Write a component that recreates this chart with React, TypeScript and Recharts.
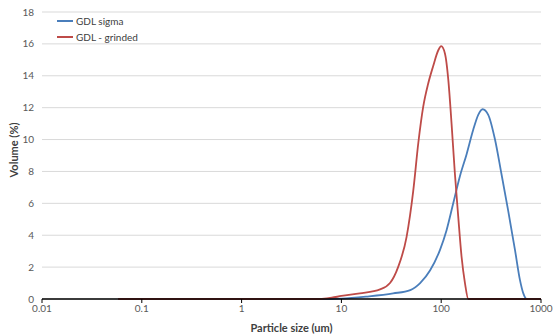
import * as React from 'react';
import { CartesianGrid, Label, Line, LineChart, XAxis, YAxis } from 'recharts';

// Particle size distribution (um vs volume %)
const sigmaSizes = [0.058, 1, 8, 10, 17.8, 33, 49, 61.5, 77.5, 97.5, 113, 132, 154, 180, 209, 235, 260, 296, 346, 400, 467, 548, 615, 665, 720, 800, 1000];
const sigmaVolume = [0, 0, 0, 0.02, 0.15, 0.35, 0.56, 1.0, 1.8, 3.1, 4.3, 6.0, 7.7, 9.1, 10.6, 11.55, 11.9, 11.55, 10.0, 7.9, 5.6, 3.1, 1.2, 0.35, 0, 0, 0];

const grindedSizes = [0.058, 1, 5, 6.1, 8, 10, 15.3, 24.4, 30.7, 37, 45, 52.5, 59, 66, 74, 83, 93.5, 100, 109, 118, 127, 137, 148, 160, 173, 187, 200, 1000];
const grindedVolume = [0, 0, 0, 0, 0.08, 0.19, 0.35, 0.6, 1.0, 2.0, 3.9, 6.8, 9.8, 12.05, 13.5, 14.6, 15.6, 15.86, 15.4, 13.7, 11.0, 7.9, 5.2, 2.65, 1.0, 0, 0, 0];

const xTicks = [0.01, 0.1, 1, 10, 100, 1000];
const yTicks = [0, 2, 4, 6, 8, 10, 12, 14, 16, 18];

const seriesNames = ['GDL sigma', 'GDL - grinded'];
const seriesColors = ['#4a7ebb', '#be4b48'];

const FONT = 'Lato, "Open Sans", sans-serif';

const sigmaData = sigmaSizes.map((size, i) => ({ size, volume: sigmaVolume[i] }));
const grindedData = grindedSizes.map((size, i) => ({ size, volume: grindedVolume[i] }));

const formatTick = (v: number) => (v < 1 ? String(v) : v.toFixed(0));

// Legend sits inside the plot, top-left, so it is drawn as an overlay
function LegendBox() {
    return (
        <div style={{ position: 'absolute', left: 57, top: 13, fontFamily: FONT, fontSize: 10, color: '#404040' }}>
            {seriesNames.map((name, i) => (
                <div key={name} style={{ display: 'flex', alignItems: 'center', height: 16 }}>
                    <div style={{ width: 16, height: 2, background: seriesColors[i], marginRight: 3 }} />
                    <span>{name}</span>
                </div>
            ))}
        </div>
    );
}

export default function App() {
    return (
        <div style={{ position: 'absolute', left: 0, top: 0, width: 554, height: 336, background: '#fff' }}>
            <LineChart width={554} height={336} margin={{ top: 12, right: 13, left: 12, bottom: 0 }}>
                <CartesianGrid stroke="#d9d9d9" vertical={false} />
                <XAxis
                    dataKey="size"
                    type="number"
                    scale="log"
                    domain={[0.01, 1000]}
                    ticks={xTicks}
                    tickFormatter={formatTick}
                    allowDataOverflow
                    height={37}
                    axisLine={{ stroke: '#000', strokeWidth: 1.5 }}
                    tickLine={{ stroke: '#000' }}
                    tickSize={4}
                    tick={{ fontSize: 10, fill: '#595959', fontFamily: FONT }}
                >
                    <Label
                        value="Particle size (um)"
                        position="insideBottom"
                        offset={4}
                        style={{ fontSize: 11, fontWeight: 700, fill: '#404040', fontFamily: FONT }}
                    />
                </XAxis>
                <YAxis
                    dataKey="volume"
                    type="number"
                    domain={[0, 18]}
                    ticks={yTicks}
                    width={30}
                    axisLine={false}
                    tickLine={false}
                    tick={{ fontSize: 10, fill: '#595959', fontFamily: FONT }}
                >
                    <Label
                        content={() => (
                            <text
                                x={13}
                                y={150}
                                transform="rotate(-90 13 150)"
                                textAnchor="middle"
                                dominantBaseline="central"
                                style={{ fontSize: 11, fontWeight: 700, fill: '#404040', fontFamily: FONT }}
                            >
                                Volume (%)
                            </text>
                        )}
                    />
                </YAxis>
                <Line
                    data={sigmaData}
                    dataKey="volume"
                    name={seriesNames[0]}
                    type="monotone"
                    stroke={seriesColors[0]}
                    strokeWidth={1.8}
                    dot={false}
                    isAnimationActive={false}
                />
                <Line
                    data={grindedData}
                    dataKey="volume"
                    name={seriesNames[1]}
                    type="monotone"
                    stroke={seriesColors[1]}
                    strokeWidth={1.8}
                    dot={false}
                    isAnimationActive={false}
                />
            </LineChart>
            <LegendBox />
        </div>
    );
}
